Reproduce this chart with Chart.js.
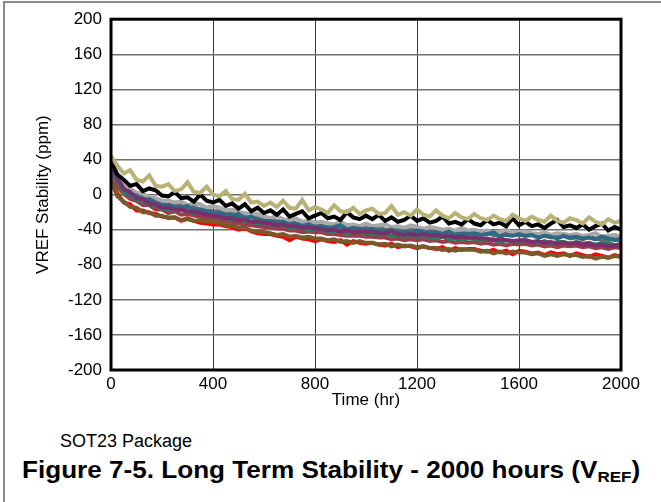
<!DOCTYPE html>
<html>
<head>
<meta charset="utf-8">
<script src="https://cdn.jsdelivr.net/npm/chart.js@4/dist/chart.umd.min.js"></script>
<style>
  html, body { margin: 0; padding: 0; background: #fff; }
  body { width: 661px; height: 502px; position: relative; overflow: hidden; font-family: Arial, "Liberation Sans", sans-serif; }
  #frameTop { position: absolute; left: 3px; top: 1px; width: 658px; height: 2px; background: #8a8a8a; }
  #frameLeft { position: absolute; left: 3px; top: 1px; width: 2px; height: 501px; background: #8a8a8a; }
  #c { position: absolute; left: 0; top: 0; }
  #pkg { position: absolute; left: 60px; top: 431px; font-size: 18px; color: #000; white-space: nowrap; }
  #cap { position: absolute; left: 22px; top: 457px; font-size: 23px; font-weight: bold; color: #000; white-space: nowrap; transform: scaleX(1.135); transform-origin: 0 50%; }
  #cap sub { font-size: 15px; vertical-align: -4px; line-height: 0; }
</style>
</head>
<body>
<div id="frameTop"></div>
<div id="frameLeft"></div>
<canvas id="c" width="661" height="420"></canvas>
<div id="pkg">SOT23 Package</div>
<div id="cap">Figure 7-5. Long Term Stability - 2000 hours (V<sub>REF</sub>)</div>
<script>
// Time axis (hours), one sample every 25 h
const hours = [0,25,50,75,100,125,150,175,200,225,250,275,300,325,350,375,400,425,450,475,500,525,550,575,600,625,650,675,700,725,750,775,800,825,850,875,900,925,950,975,1000,1025,1050,1075,1100,1125,1150,1175,1200,1225,1250,1275,1300,1325,1350,1375,1400,1425,1450,1475,1500,1525,1550,1575,1600,1625,1650,1675,1700,1725,1750,1775,1800,1825,1850,1875,1900,1925,1950,1975,2000];

const xTicks = [0, 400, 800, 1200, 1600, 2000];
const yTicks = [-200, -160, -120, -80, -40, 0, 40, 80, 120, 160, 200];

// VREF stability (ppm) for each unit
const unitKhaki = [44,33,24,28,17,15,22,10,9, 12,4,6,14,3,2,9,0, -2,4,-5,-6,1,-9,-8,-13, -9,-14,-7,-15,-16,-6,-18,-14, -17,-21,-12,-19,-20,-15,-22,-18, -16,-22,-21,-13,-23,-20,-24,-17, -23,-25,-18,-24,-27,-21,-26,-28, -22,-27,-29,-24,-28,-30,-23,-27, -30,-25,-29,-31,-24,-30,-32,-27, -29,-33,-26,-31,-34,-28,-32,-30];
const unitBlack = [38,23,17,10,12,4,7,5,-1, -2,3,-4,-3,-8,0,-7,-9, -6,-13,-10,-16,-11,-19,-15,-21, -18,-23,-17,-25,-22,-19,-27,-24, -21,-27,-25,-29,-20,-26,-28,-24, -28,-23,-30,-26,-31,-29,-24,-30, -27,-32,-30,-25,-33,-31,-34,-28, -33,-35,-29,-34,-32,-36,-27,-35, -31,-36,-34,-38,-33,-29,-37,-35, -38,-34,-40,-36,-33,-41,-37,-40];
const unitLightGray = [34,21,10,7,2,1,-3,-4,-7, -7,-9,-8,-12,-10,-11,-15,-13, -15,-18,-17,-20,-21,-23,-22,-25, -27,-24,-28,-29,-27,-31,-30,-32, -31,-33,-34,-31,-35,-34,-36,-33, -36,-35,-34,-37,-36,-38,-35,-37, -39,-37,-38,-40,-39,-41,-38,-41, -40,-42,-41,-43,-42,-40,-44,-43, -42,-44,-45,-43,-46,-44,-45,-46, -45,-47,-46,-44,-48,-47,-46,-48];
const unitDarkGray = [31,19,7,4,-2,-3,-6,-7,-11, -11,-13,-12,-15,-14,-17,-16,-19, -19,-21,-22,-24,-23,-26,-27,-28, -28,-30,-31,-29,-33,-34,-32,-35, -34,-36,-36,-38,-35,-37,-39,-37, -39,-37,-40,-40,-38,-42,-40,-41, -42,-40,-43,-44,-41,-43,-45,-43, -45,-43,-44,-46,-47,-44,-46,-46, -47,-46,-48,-47,-49,-48,-47,-50, -49,-51,-48,-50,-52,-50,-51,-52];
const unitTeal = [33,16,7,0,-1,-6,-5,-9,-12, -12,-14,-15,-13,-18,-17,-19,-21, -21,-23,-24,-22,-27,-25,-29,-30, -30,-32,-31,-34,-33,-36,-34,-37, -36,-38,-37,-35,-40,-38,-39,-40, -39,-41,-42,-40,-43,-42,-44,-41, -42,-44,-43,-45,-42,-46,-44,-45, -44,-46,-45,-43,-48,-46,-47,-45, -47,-46,-49,-47,-48,-50,-47,-49, -48,-50,-49,-51,-48,-50,-52,-50];
const unitGreen = [29,15,2,-1,-6,-7,-11,-12,-16, -16,-18,-17,-20,-21,-19,-23,-24, -25,-27,-28,-26,-30,-31,-33,-33, -34,-36,-35,-38,-38,-37,-41,-39, -40,-42,-42,-41,-45,-43,-43,-44, -44,-46,-45,-47,-46,-48,-47,-48, -47,-49,-50,-48,-51,-50,-52,-50, -50,-52,-52,-51,-54,-52,-53,-53, -52,-54,-55,-53,-56,-54,-54,-56, -54,-56,-55,-57,-56,-55,-58,-56];
const unitPurple = [35,19,6,3,-4,-5,-10,-11,-15, -15,-17,-17,-19,-20,-21,-23,-24, -25,-27,-27,-29,-29,-31,-31,-32, -33,-35,-34,-36,-36,-38,-37,-39, -39,-41,-40,-42,-41,-43,-42,-43, -42,-44,-44,-42,-45,-46,-45,-46, -45,-47,-46,-48,-47,-49,-48,-49, -49,-50,-50,-52,-51,-52,-53,-52, -52,-54,-53,-55,-54,-56,-55,-56, -55,-57,-56,-58,-57,-59,-58,-58];
const unitMaroon = [27,9,1,-5,-7,-12,-12,-17,-17, -21,-19,-23,-22,-24,-25,-27,-28, -29,-31,-31,-33,-34,-35,-36,-37, -37,-39,-39,-41,-41,-43,-42,-43, -43,-45,-45,-46,-47,-47,-47,-48, -48,-49,-49,-51,-50,-52,-51,-52, -51,-53,-52,-54,-53,-55,-54,-55, -54,-56,-55,-57,-56,-58,-56,-57, -56,-58,-57,-59,-58,-60,-58,-59, -58,-60,-59,-61,-60,-62,-60,-61];
const unitRed = [15,1,-9,-11,-18,-18,-21,-22,-25, -26,-26,-30,-27,-30,-32,-33,-34, -34,-36,-37,-40,-38,-42,-44,-45, -45,-47,-48,-52,-48,-50,-51,-53, -51,-53,-54,-52,-57,-53,-55,-56, -55,-57,-58,-56,-60,-58,-59,-61, -59,-61,-62,-60,-64,-61,-63,-62, -62,-64,-65,-63,-66,-64,-68,-64, -65,-67,-66,-69,-66,-68,-67,-70, -67,-69,-71,-68,-70,-72,-69,-71];
const unitBrown = [16,-2,-8,-14,-15,-20,-20,-24,-24, -27,-26,-29,-28,-30,-29,-31,-31, -32,-35,-35,-38,-38,-41,-42,-43, -44,-46,-45,-48,-47,-49,-48,-50, -50,-52,-51,-54,-53,-55,-53,-55, -55,-57,-56,-59,-57,-59,-58,-60, -59,-61,-61,-63,-62,-64,-62,-63, -63,-65,-64,-67,-65,-67,-65,-66, -66,-68,-67,-70,-68,-70,-68,-69, -69,-71,-70,-73,-71,-72,-70,-71];

// first listed is drawn on top
const seriesList = [
  { name: 'Unit 1',  values: unitKhaki,     color: '#b8b276' },
  { name: 'Unit 2',  values: unitBlack,     color: '#000000' },
  { name: 'Unit 3',  values: unitBrown,     color: '#7a5a2a' },
  { name: 'Unit 4',  values: unitPurple,    color: '#7a2e6c' },
  { name: 'Unit 5',  values: unitTeal,      color: '#2e6a85' },
  { name: 'Unit 6',  values: unitGreen,     color: '#2f7a5a' },
  { name: 'Unit 7',  values: unitMaroon,    color: '#9a3d4c' },
  { name: 'Unit 8',  values: unitLightGray, color: '#a8a8a8' },
  { name: 'Unit 9',  values: unitDarkGray,  color: '#6c6c6c' },
  { name: 'Unit 10', values: unitRed,       color: '#ff0000' }
];

const datasets = seriesList.map(s => ({
  label: s.name,
  data: hours.map((h, i) => ({ x: h, y: s.values[i] })),
  borderColor: s.color,
  backgroundColor: s.color,
  borderWidth: 4,
  pointRadius: 0,
  tension: 0,
  fill: false
}));

const frame = {
  id: 'frame',
  afterDatasetsDraw(chart) {
    const { ctx, chartArea: a } = chart;
    ctx.save();
    ctx.strokeStyle = '#000';
    ctx.lineWidth = 3;
    ctx.strokeRect(a.left, a.top, a.right - a.left, a.bottom - a.top);
    ctx.restore();
  }
};

const FONT = "Arial, 'Liberation Sans', sans-serif";

new Chart(document.getElementById('c'), {
  type: 'line',
  data: { datasets },
  plugins: [frame],
  options: {
    responsive: false,
    animation: false,
    layout: { padding: { left: 0, right: 40, top: 19, bottom: 0 } },
    plugins: { legend: { display: false }, tooltip: { enabled: false } },
    scales: {
      x: {
        type: 'linear',
        min: 0, max: 2000,
        afterBuildTicks: (sc) => { sc.ticks = xTicks.map(v => ({ value: v })); },
        afterFit: (sc) => { sc.height = 50; },
        grid: { color: '#3a3a3a', lineWidth: 1, drawTicks: false },
        border: { display: false },
        ticks: { color: '#000', padding: 4, maxRotation: 0, callback: (v) => String(v), font: { family: FONT, size: 17 } },
        title: { display: true, text: 'Time (hr)', color: '#000', padding: { top: 0, bottom: 9 }, font: { family: FONT, size: 17 } }
      },
      y: {
        type: 'linear',
        min: -200, max: 200,
        afterBuildTicks: (sc) => { sc.ticks = yTicks.map(v => ({ value: v })); },
        afterFit: (sc) => { sc.width = 111; },
        grid: { color: '#707070', lineWidth: 1.5, drawTicks: false },
        border: { display: false },
        ticks: { color: '#000', padding: 9, callback: (v) => String(v), font: { family: FONT, size: 17 } },
        title: { display: true, text: 'VREF Stability (ppm)', color: '#000', padding: { top: 33, bottom: 0 }, font: { family: FONT, size: 17 } }
      }
    }
  }
});
</script>
</body>
</html>
